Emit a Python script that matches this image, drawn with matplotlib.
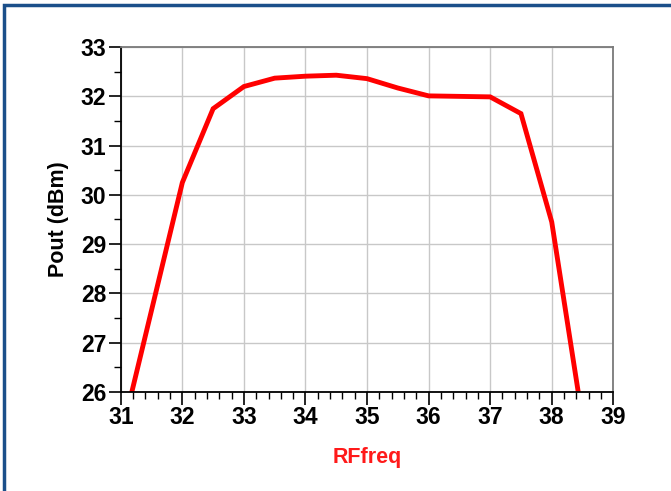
import matplotlib
matplotlib.use("Agg")
import matplotlib.pyplot as plt
from matplotlib.patches import Rectangle
from matplotlib.ticker import MultipleLocator

# Pout vs RF frequency
rf_freq = [31.18, 32.0, 32.5, 33.0, 33.5, 34.0, 34.5, 35.0, 35.5, 36.0, 37.0, 37.5, 38.0, 38.43]
pout_dbm = [26.0, 30.25, 31.75, 32.2, 32.37, 32.41, 32.43, 32.36, 32.17, 32.01, 31.99, 31.65, 29.45, 26.0]

x_ticks = [31, 32, 33, 34, 35, 36, 37, 38, 39]
y_ticks = [26, 27, 28, 29, 30, 31, 32, 33]

plt.rcParams['font.family'] = ['Liberation Sans', 'DejaVu Sans']

fig = plt.figure(figsize=(6.71, 4.91), dpi=100)
ax = fig.add_axes([0.180, 0.202, 0.734, 0.702])

# blue frame around the figure (only top/left visible in the reference)
fig.patches.append(Rectangle((4 / 671, -0.05), 1.2, 1 - 5 / 491 + 0.05, transform=fig.transFigure,
                             fill=False, edgecolor='#1b4f8a', linewidth=2.5))

ax.plot(rf_freq, pout_dbm, color='#ff0000', linewidth=3.5, solid_joinstyle='miter', clip_on=True)

ax.set_xlim(31, 39)
ax.set_ylim(26, 33)
ax.set_xticks(x_ticks)
ax.set_yticks(y_ticks)
ax.xaxis.set_minor_locator(MultipleLocator(0.2))
ax.yaxis.set_minor_locator(MultipleLocator(0.5))

ax.grid(True, which='major', color='#c8c8c8', linewidth=1.0)
ax.set_axisbelow(True)

ax.tick_params(which='major', direction='out', length=9, width=1.2, colors='black',
               labelsize=16.5, pad=1.5)
ax.tick_params(which='minor', direction='out', length=5, width=1.0, colors='black')
for lbl in ax.get_xticklabels() + ax.get_yticklabels():
    lbl.set_fontweight('bold')

ax.spines['left'].set_color('black')
ax.spines['bottom'].set_color('black')
ax.spines['top'].set_color('#7a7a7a')
ax.spines['right'].set_color('#7a7a7a')
for sp in ax.spines.values():
    sp.set_linewidth(1.3)

ax.set_xlabel('RFfreq', color='#ff1a1a', fontsize=15.5, fontweight='bold', labelpad=13)
ax.set_ylabel('Pout (dBm)', color='black', fontsize=15.5, fontweight='bold', labelpad=8)

fig.savefig('out.png', dpi=100)
